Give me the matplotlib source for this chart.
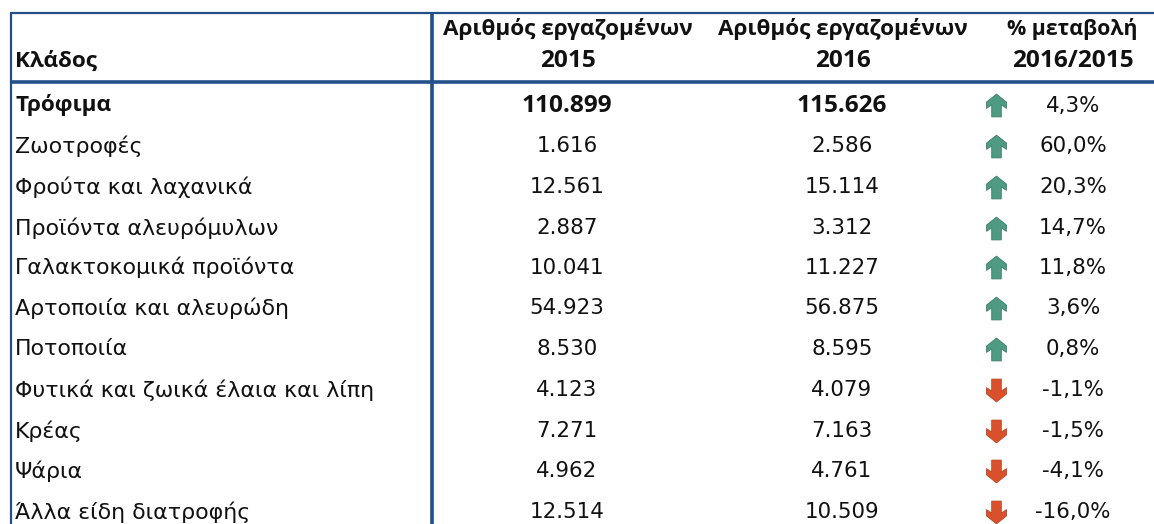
import matplotlib
matplotlib.use("Agg")
import matplotlib.pyplot as plt
from matplotlib.path import Path

branches = ["Τρόφιμα", "Ζωοτροφές", "Φρούτα και λαχανικά", "Προϊόντα αλευρόμυλων",
            "Γαλακτοκομικά προϊόντα", "Αρτοποιία και αλευρώδη", "Ποτοποιία",
            "Φυτικά και ζωικά έλαια και λίπη", "Κρέας", "Ψάρια", "Άλλα είδη διατροφής"]
workers_2015 = [110899, 1616, 12561, 2887, 10041, 54923, 8530, 4123, 7271, 4962, 12514]
workers_2016 = [115626, 2586, 15114, 3312, 11227, 56875, 8595, 4079, 7163, 4761, 10509]
change_pct = [4.3, 60.0, 20.3, 14.7, 11.8, 3.6, 0.8, -1.1, -1.5, -4.1, -16.0]
header_first = "Κλάδος"
header_col2 = ["Αριθμός εργαζομένων", "2015"]
header_col3 = ["Αριθμός εργαζομένων", "2016"]
header_col4 = ["% μεταβολή", "2016/2015"]

REG = dict(fontsize=15.4, family=['DejaVu Sans'], fontweight="normal", color="#111111", va="center")
LAB = dict(REG, fontsize=15.9)
BLD = dict(fontsize=16.2, family=['Open Sans', 'DejaVu Sans'], fontweight="bold", color="#111111", va="center")
BNUM = dict(BLD, fontsize=17.6)
NAVY = "#24508a"
UP = "#4f9a83"
UP_EDGE = "#3f8069"
DOWN = "#d8512c"
DOWN_EDGE = "#bf4424"
row_y = [105.5, 146, 187, 228, 267.5, 308, 349, 390, 431, 471, 512]

fig = plt.figure(figsize=(11.54, 5.24), dpi=100)
ax = fig.add_axes([0, 0, 1, 1])
ax.set_xlim(0, 1154)
ax.set_ylim(524, 0)
ax.axis("off")

def thou(v):
    return f"{v:,}".replace(",", ".")

def pct(v):
    return f"{v:.1f}%".replace(".", ",")

up_marker = Path([(0, 1), (0.875, 0.3), (0.875, -0.25), (0.42, 0.05), (0.42, -1), (-0.42, -1),
                  (-0.42, 0.05), (-0.875, -0.25), (-0.875, 0.3), (0, 1)], closed=True)
down_marker = Path([(x, -y) for x, y in up_marker.vertices], closed=True)

ax.plot([10, 1154], [13, 13], color=NAVY, lw=1.6, solid_capstyle="butt")
ax.plot([10, 1154], [81.5, 81.5], color=NAVY, lw=2.6, solid_capstyle="butt")
ax.plot([10.5, 10.5], [13, 524], color=NAVY, lw=1.6, solid_capstyle="butt")
ax.plot([432, 432], [13, 524], color=NAVY, lw=2.6, solid_capstyle="butt")

ax.text(15, 61, header_first, **BLD)
for cx, lines in ((568, header_col2), (843, header_col3), (1072, header_col4)):
    ax.text(cx, 29, lines[0], ha="center", **dict(BLD, fontsize=16.2 if cx < 1000 else 15.4))
    ax.text(cx + (0 if cx < 1000 else 1), 61, lines[1], ha="center", **BNUM)

for i, y in enumerate(row_y):
    st = BLD if i == 0 else LAB
    num = BNUM if i == 0 else REG
    ax.text(15, y, branches[i], **st)
    ax.text(567, y, thou(workers_2015[i]), ha="center", **num)
    ax.text(842, y, thou(workers_2016[i]), ha="center", **num)
    ax.text(1073, y, pct(change_pct[i]), ha="center", **REG)
    up = change_pct[i] >= 0
    ax.scatter([996], [y - 0.5], marker=up_marker if up else down_marker, s=270,
               color=UP if up else DOWN, edgecolors=UP_EDGE if up else DOWN_EDGE,
               linewidths=0.6, clip_on=False)

fig.savefig("out.png", dpi=100, facecolor="white")
